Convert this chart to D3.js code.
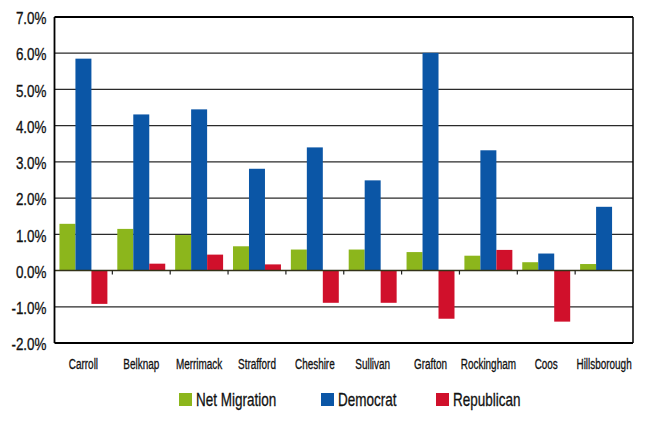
<!DOCTYPE html>
<html>
<head>
<meta charset="utf-8">
<script src="https://cdn.jsdelivr.net/npm/d3@7"></script>
<style>
  body { margin: 0; background: #fff; }
  svg text { font-family: "Liberation Sans", Arial, sans-serif; fill: #111; stroke: #111; stroke-width: 0.3px; }
</style>
</head>
<body>
<div id="chart"></div>
<script>
/* ── Data (percent change) ── */
const counties   = ['Carroll', 'Belknap', 'Merrimack', 'Strafford', 'Cheshire',
                    'Sullivan', 'Grafton', 'Rockingham', 'Coos', 'Hillsborough'];
const series     = ['Net Migration', 'Democrat', 'Republican'];
const netMigration = [1.29, 1.15, 0.98, 0.67, 0.58, 0.58, 0.51, 0.41, 0.23, 0.18];
const democrat     = [5.85, 4.31, 4.45, 2.81, 3.40, 2.49, 6.01, 3.32, 0.47, 1.76];
const republican   = [-0.92, 0.19, 0.44, 0.17, -0.89, -0.89, -1.33, 0.57, -1.41, 0.0];
const yTicks     = [-2, -1, 0, 1, 2, 3, 4, 5, 6, 7];

const colors = { 'Net Migration': '#8cb61c', 'Democrat': '#0b56a6', 'Republican': '#d0102b' };

/* ── Layout ── */
const W = 662, H = 421;
const M = { top: 17, right: 29, bottom: 78, left: 54.5 };
const iw = W - M.left - M.right;
const ih = H - M.top - M.bottom;

// the source font is a narrow one, so squeeze text horizontally around its anchor x
function squeeze(sel, sx) {
  sel.attr('transform', function() {
    const x = +this.getAttribute('x') || 0;
    return `translate(${x * (1 - sx)},0) scale(${sx},1)`;
  });
}

const rows = counties.map((c, i) => ({
  county: c,
  values: [netMigration[i], democrat[i], republican[i]]
}));

const svg = d3.select('#chart').append('svg')
  .attr('width', W).attr('height', H);
const g = svg.append('g').attr('transform', `translate(${M.left},${M.top})`);

const x0 = d3.scaleBand().domain(counties).range([0, iw]).padding(0);
const x1 = d3.scaleBand().domain(series).range([0, x0.bandwidth()])
  .paddingInner(0).paddingOuter(0.31);
const y = d3.scaleLinear().domain([-2, 7]).range([ih, 0]);

/* gridlines */
g.selectAll('.grid')
  .data(yTicks.filter(t => t !== 0 && t !== 7 && t !== -2))
  .join('line')
  .attr('x1', 0).attr('x2', iw)
  .attr('y1', d => y(d)).attr('y2', d => y(d))
  .attr('stroke', '#2a2a2a').attr('stroke-width', 1.3);

/* bars */
const grp = g.selectAll('.grp').data(rows).join('g')
  .attr('transform', d => `translate(${x0(d.county)},0)`);
grp.selectAll('rect')
  .data(d => d.values.map((v, j) => ({ key: series[j], v })))
  .join('rect')
  .attr('x', d => x1(d.key))
  .attr('width', x1.bandwidth())
  .attr('y', d => y(Math.max(0, d.v)))
  .attr('height', d => Math.abs(y(d.v) - y(0)))
  .attr('fill', d => colors[d.key]);

/* zero line + category ticks */
g.append('line')
  .attr('x1', 0).attr('x2', iw).attr('y1', y(0)).attr('y2', y(0))
  .attr('stroke', '#333318').attr('stroke-width', 1.5);
g.selectAll('.ctick')
  .data(counties.slice(1))
  .join('line')
  .attr('x1', d => x0(d)).attr('x2', d => x0(d))
  .attr('y1', y(0)).attr('y2', y(0) + 4)
  .attr('stroke', '#222').attr('stroke-width', 1.2);

/* frame */
g.append('line').attr('x1', 0).attr('x2', iw).attr('y1', 0).attr('y2', 0)
  .attr('stroke', '#000').attr('stroke-width', 2.2);
g.append('line').attr('x1', 0).attr('x2', iw).attr('y1', ih).attr('y2', ih)
  .attr('stroke', '#000').attr('stroke-width', 1.8);
g.append('line').attr('x1', 0).attr('x2', 0).attr('y1', 0).attr('y2', ih)
  .attr('stroke', '#000').attr('stroke-width', 1.8);
g.append('line').attr('x1', iw).attr('x2', iw).attr('y1', 0).attr('y2', ih)
  .attr('stroke', '#000').attr('stroke-width', 1.5);

/* y axis labels (plain hyphen for negatives, as in the source) */
const yAxis = d3.axisLeft(y).tickValues(yTicks)
  .tickFormat(d => d.toFixed(1) + '%').tickSize(0).tickPadding(8);
g.append('g').call(yAxis)
  .call(a => a.select('.domain').remove())
  .selectAll('text')
  .attr('dy', '0.42em')
  .style('font-size', '16px')
  .call(squeeze, 0.84);

/* x axis labels */
const xAxis = d3.axisBottom(x0).tickSize(0).tickPadding(0);
g.append('g').attr('transform', `translate(0,${ih})`).call(xAxis)
  .call(a => a.select('.domain').remove())
  .selectAll('text')
  .attr('dy', 0).attr('y', 26.5)
  .style('font-size', '14px')
  .call(squeeze, 0.71);

/* legend */
const legendX = [179, 321, 436];
const leg = svg.selectAll('.leg').data(series).join('g')
  .attr('transform', (d, i) => `translate(${legendX[i]},393)`);
leg.append('rect').attr('width', 13).attr('height', 13)
  .attr('fill', d => colors[d]);
leg.append('text').attr('x', 17).attr('y', 13)
  .style('font-size', '18px').text(d => d)
  .call(squeeze, 0.75);
</script>
</body>
</html>
